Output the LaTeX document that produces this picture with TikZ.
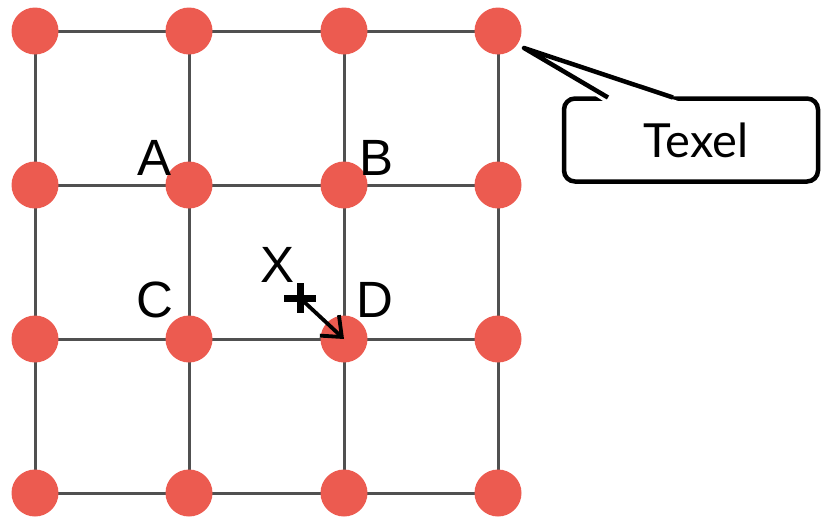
\documentclass[tikz,border=0pt]{standalone}
\usepackage{fontspec}
\setmainfont{Liberation Sans}
\newfontfamily\latofont{Lato}
\usetikzlibrary{arrows.meta,backgrounds}
\definecolor{dotred}{RGB}{236,91,80}
\definecolor{gridgray}{RGB}{80,80,80}
\begin{document}
\begin{tikzpicture}[x=1pt,y=-1pt,
  dot/.style={circle,fill=dotred,minimum size=47pt,inner sep=0pt},
  gridline/.style={gridgray,line width=3pt},
  lbl/.style={font=\fontsize{51}{51}\selectfont,inner sep=0pt},
  callbox/.style={draw,line width=4.5pt,rounded corners=11pt,minimum width=254pt,minimum height=83pt,inner sep=0pt},
  calltext/.style={font=\latofont\fontsize{47}{47}\selectfont,inner sep=0pt}]
\useasboundingbox (0,0) rectangle (822,520);
% texel dots
\foreach \c/\x in {1/35,2/189,3/344,4/498}
  \foreach \r/\y in {1/31,2/185,3/339,4/493}
    \node[dot] (p\r\c) at (\x,\y) {};
% grid lines
\begin{scope}[on background layer]
  \foreach \r in {1,...,4}
    \draw[gridline] (p\r1.center) -- (p\r4.center);
  \foreach \c in {1,...,4}
    \draw[gridline] (p1\c.center) -- (p4\c.center);
\end{scope}
% labels
\node[lbl] (A) at (155,158) {A};
\node[lbl] (B) at (377,158) {B};
\node[lbl] (C) at (155,300) {C};
\node[lbl] (D) at (375,300) {D};
\node[lbl] (X) at (278,265) {X};
% sample point and arrow
\coordinate (xp) at (300,298);
\draw[line width=7pt] (xp) ++(-16,0) -- ++(32,0);
\draw[line width=7pt] (xp) ++(0,-15) -- ++(0,30);
\draw[line width=3.8pt,-{Straight Barb[length=17pt,width=28pt]}] (xp) -- (p33.center);
% callout
\node[callbox] (box) at (691,140) {};
\node[calltext] (texel) at (696,140) {Texel};
\coordinate (tip) at (524,48);
\fill[white] (603,101) -- (tip) -- (678,101) -- cycle;
\draw[line width=4.5pt,line join=round] (608,97.5) -- (tip) -- (673,97.5);
\end{tikzpicture}
\end{document}
